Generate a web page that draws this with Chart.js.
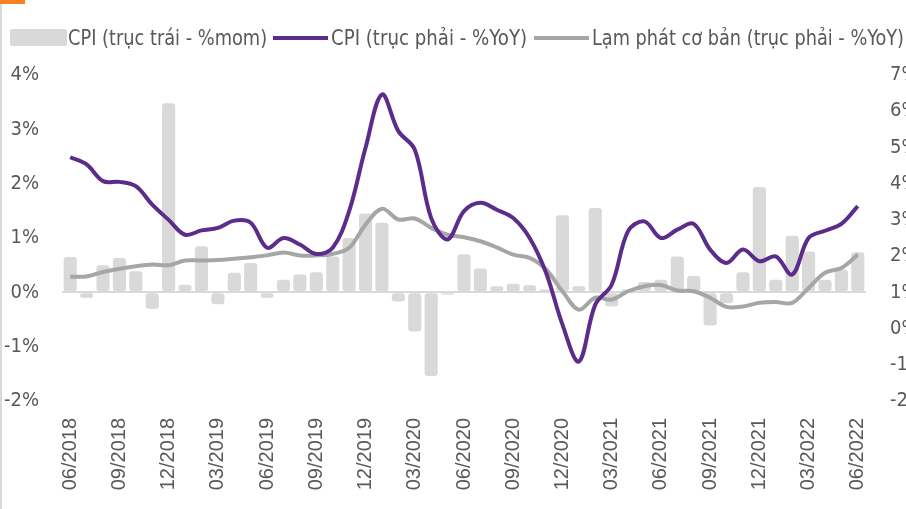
<!DOCTYPE html>
<html>
<head>
<meta charset="utf-8">
<script src="https://cdn.jsdelivr.net/npm/chart.js@4"></script>
<style>
html, body { margin: 0; padding: 0; background: #fff; }
#wrap { position: relative; width: 906px; height: 509px; overflow: hidden; }
#wrap canvas { position: absolute; left: 0; top: 0; }
.edge { position: absolute; left: 0; top: 0; width: 2px; height: 509px; background: #d9d9d9; }
.flag { position: absolute; left: 0; top: 0; width: 25px; height: 4px; background: #f58220; }
.lg { position: absolute; top: 26px; height: 22px; line-height: 22px; white-space: nowrap; transform-origin: 0 50%;
      font: 21px "Liberation Sans Narrow", "DejaVu Sans Condensed", sans-serif; color: #595959; }
.sw { position: absolute; }
</style>
</head>
<body>
<div id="wrap">
  <canvas id="cpiChart" width="906" height="509"></canvas>
  <div class="edge"></div>
  <div class="flag"></div>
  <div class="sw" style="left:10px;top:29px;width:57px;height:17px;background:#d9d9d9;border-radius:2px"></div>
  <div class="lg" id="lg1" style="left:68px" data-w="199"></div>
  <div class="sw" style="left:273px;top:36px;width:55px;height:4px;background:#5b2c8a"></div>
  <div class="lg" id="lg2" style="left:331px" data-w="196"></div>
  <div class="sw" style="left:534px;top:36px;width:55px;height:4px;background:#a6a6a6"></div>
  <div class="lg" id="lg3" style="left:592px" data-w="312"></div>
</div>
<script>
// Series names
const SERIES = [
    "CPI (trục trái - %mom)",
    "CPI (trục phải - %YoY)",
    "Lạm phát cơ bản (trục phải - %YoY)"
];

// Months 06/2018 - 06/2022
const months = [
    "06/2018", "07/2018", "08/2018", "09/2018", "10/2018", "11/2018", "12/2018",
    "01/2019", "02/2019", "03/2019", "04/2019", "05/2019", "06/2019", "07/2019", "08/2019", "09/2019", "10/2019", "11/2019", "12/2019",
    "01/2020", "02/2020", "03/2020", "04/2020", "05/2020", "06/2020", "07/2020", "08/2020", "09/2020", "10/2020", "11/2020", "12/2020",
    "01/2021", "02/2021", "03/2021", "04/2021", "05/2021", "06/2021", "07/2021", "08/2021", "09/2021", "10/2021", "11/2021", "12/2021",
    "01/2022", "02/2022", "03/2022", "04/2022", "05/2022", "06/2022"
];

// CPI %mom (left axis)
const cpiMom = [
    0.65, -0.10, 0.50, 0.63, 0.39, -0.30, 3.48,
    0.14, 0.85, -0.22, 0.36, 0.54, -0.10, 0.23, 0.33, 0.37, 0.66, 1.00, 1.45,
    1.28, -0.17, -0.72, -1.54, -0.04, 0.70, 0.44, 0.11, 0.16, 0.13, 0.05, 1.42,
    0.11, 1.55, -0.26, 0.05, 0.19, 0.23, 0.66, 0.30, -0.61, -0.20, 0.37, 1.94,
    0.23, 1.04, 0.75, 0.23, 0.42, 0.74
];

// CPI %YoY (right axis)
const cpiYoY = [
    4.73, 4.53, 4.07, 4.05, 3.93, 3.42, 3.00,
    2.59, 2.71, 2.78, 2.98, 2.92, 2.23, 2.50, 2.32, 2.06, 2.23, 3.24, 4.99,
    6.46, 5.45, 4.94, 3.05, 2.46, 3.24, 3.47, 3.28, 3.05, 2.50, 1.54, 0.11,
    -0.91, 0.66, 1.21, 2.69, 2.96, 2.50, 2.73, 2.89, 2.18, 1.81, 2.18, 1.86,
    1.99, 1.49, 2.50, 2.70, 2.89, 3.38
];

// Core inflation %YoY (right axis)
const coreYoY = [
    1.43, 1.44, 1.56, 1.65, 1.72, 1.77, 1.75,
    1.88, 1.88, 1.89, 1.93, 1.97, 2.02, 2.10, 2.02, 2.02, 2.06, 2.23, 2.87,
    3.31, 3.01, 3.04, 2.78, 2.59, 2.52, 2.41, 2.24, 2.04, 1.95, 1.63, 1.03,
    0.52, 0.85, 0.80, 1.03, 1.17, 1.20, 1.05, 1.03, 0.85, 0.60, 0.61, 0.71,
    0.73, 0.71, 1.12, 1.54, 1.67, 2.04
];

const PURPLE = "#5b2c8a";
const GREY_LINE = "#a6a6a6";
const BAR = "#d9d9d9";
const TEXT = "#595959";

// Legend text, squeezed to the reference widths (narrow font not installed)
["lg1", "lg2", "lg3"].forEach((id, i) => {
    const el = document.getElementById(id);
    el.textContent = SERIES[i];
    const target = +el.dataset.w;
    const w = el.getBoundingClientRect().width;
    if (w > 0) el.style.transform = "scaleX(" + (target / w).toFixed(3) + ")";
});

const tickFont = { family: "'DejaVu Sans Condensed', sans-serif", size: 20 };

const ctx = document.getElementById("cpiChart").getContext("2d");
new Chart(ctx, {
    data: {
        labels: months,
        datasets: [
            {
                type: "line",
                label: SERIES[1],
                data: cpiYoY,
                yAxisID: "y1",
                borderColor: PURPLE,
                borderWidth: 4,
                pointRadius: 0,
                tension: 0.35,
                order: 0
            },
            {
                type: "line",
                label: SERIES[2],
                data: coreYoY,
                yAxisID: "y1",
                borderColor: GREY_LINE,
                borderWidth: 4,
                pointRadius: 0,
                tension: 0.35,
                order: 1
            },
            {
                type: "bar",
                label: SERIES[0],
                data: cpiMom,
                yAxisID: "y",
                backgroundColor: BAR,
                barPercentage: 0.8,
                categoryPercentage: 1,
                borderRadius: 3,
                borderSkipped: false,
                order: 2
            }
        ]
    },
    options: {
        responsive: false,
        animation: false,
        devicePixelRatio: 1,
        layout: { padding: { top: 75, left: 0, right: 0, bottom: 0 } },
        plugins: {
            legend: { display: false },
            tooltip: { enabled: false }
        },
        scales: {
            x: {
                offset: true,
                grid: { display: false, drawTicks: false },
                border: { display: false },
                ticks: {
                    autoSkip: false,
                    minRotation: 90,
                    maxRotation: 90,
                    padding: 17,
                    color: TEXT,
                    font: { family: "'Liberation Sans', sans-serif", size: 20 },
                    callback: (v, i) => (i % 3 === 0 ? months[i] : "")
                },
                afterFit: s => { s.height = 108; }
            },
            y: {
                position: "left",
                min: -2,
                max: 4,
                ticks: { stepSize: 1, padding: 23, color: TEXT, font: tickFont, callback: v => v + "%" },
                grid: {
                    drawTicks: false,
                    lineWidth: 2,
                    color: c => (c.tick && c.tick.value === 0 ? BAR : "transparent")
                },
                border: { display: false },
                afterFit: s => { s.width = 62; }
            },
            y1: {
                position: "right",
                min: -2,
                max: 7,
                ticks: { stepSize: 1, padding: 24, color: TEXT, font: tickFont, callback: v => v + "%" },
                grid: { display: false, drawTicks: false },
                border: { display: false },
                afterFit: s => { s.width = 40; }
            }
        }
    }
});
</script>
</body>
</html>
